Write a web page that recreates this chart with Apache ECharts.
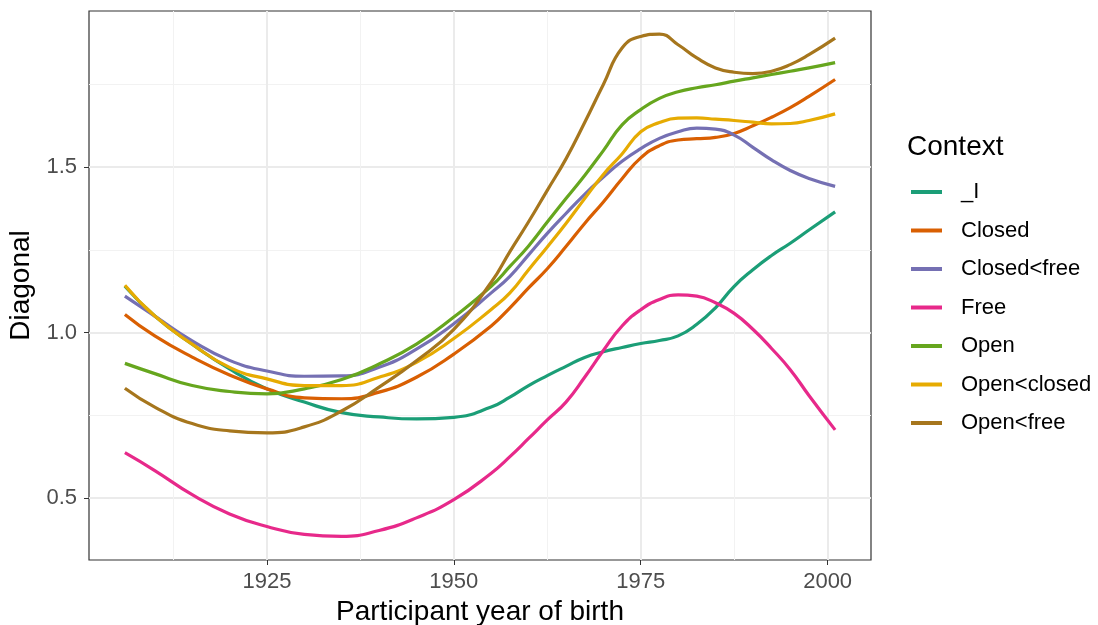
<!DOCTYPE html>
<html>
<head>
<meta charset="utf-8">
<script src="https://cdn.jsdelivr.net/npm/echarts@6/dist/echarts.min.js"></script>
<style>
  html, body { margin: 0; padding: 0; background: #fff; }
  #chart { width: 1098px; height: 625px; }
</style>
</head>
<body>
<div id="chart"></div>
<script>
// smoothed curves
const years = [1906, 1910, 1915, 1920, 1925, 1930, 1935, 1940, 1945, 1950,
  1955, 1957.5, 1960, 1962.5, 1965, 1967.5, 1970, 1972.5, 1975, 1977.5,
  1980, 1982.5, 1985, 1987.5, 1990, 1992.5, 1995, 1997.5, 2001]

const contexts = ['_I', 'Closed', 'Closed<free', 'Free', 'Open', 'Open<closed', 'Open<free']
const colors = ['#1B9E77', '#D95F02', '#7570B3', '#E7298A', '#66A61E', '#E6AB02', '#A6761D']

const valI = [1.14, 1.05, 0.965, 0.89, 0.83, 0.79, 0.758, 0.745, 0.739, 0.744,
  0.775, 0.805, 0.84, 0.87, 0.898, 0.925, 0.942, 0.955, 0.967, 0.976,
  0.99, 1.025, 1.075, 1.14, 1.19, 1.233, 1.27, 1.31, 1.365]
const valClosed = [1.055, 0.99, 0.926, 0.872, 0.83, 0.803, 0.80, 0.82, 0.865, 0.935,
  1.02, 1.075, 1.135, 1.193, 1.26, 1.33, 1.395, 1.465, 1.528, 1.565,
  1.582, 1.586, 1.59, 1.602, 1.625, 1.651, 1.68, 1.714, 1.765]
const valClosedFree = [1.11, 1.05, 0.975, 0.916, 0.884, 0.868, 0.869, 0.895, 0.95, 1.027,
  1.12, 1.17, 1.235, 1.30, 1.36, 1.418, 1.47, 1.518, 1.556, 1.587,
  1.607, 1.618, 1.615, 1.597, 1.56, 1.522, 1.49, 1.466, 1.442]
const valFree = [0.637, 0.583, 0.51, 0.452, 0.414, 0.39, 0.384, 0.402, 0.44, 0.495,
  0.575, 0.625, 0.68, 0.736, 0.79, 0.865, 0.946, 1.02, 1.069, 1.1,
  1.114, 1.11, 1.09, 1.058, 1.01, 0.952, 0.888, 0.81, 0.706]
const valOpen = [0.907, 0.876, 0.84, 0.822, 0.815, 0.83, 0.858, 0.905, 0.965, 1.047,
  1.14, 1.2, 1.262, 1.334, 1.405, 1.475, 1.55, 1.628, 1.674, 1.708,
  1.728, 1.74, 1.749, 1.76, 1.77, 1.78, 1.79, 1.80, 1.816]
const valOpenClosed = [1.143, 1.05, 0.965, 0.895, 0.86, 0.84, 0.84, 0.865, 0.91, 0.982,
  1.07, 1.12, 1.19, 1.259, 1.33, 1.405, 1.478, 1.54, 1.607, 1.635,
  1.648, 1.649, 1.645, 1.641, 1.636, 1.631, 1.632, 1.641, 1.661]
const valOpenFree = [0.832, 0.775, 0.725, 0.703, 0.697, 0.715, 0.763, 0.835, 0.915, 1.01,
  1.152, 1.245, 1.335, 1.43, 1.525, 1.635, 1.75, 1.86, 1.895, 1.902,
  1.87, 1.83, 1.80, 1.787, 1.783, 1.79, 1.81, 1.84, 1.89]

const xTicks = [1925, 1950, 1975, 2000]
const xMinor = [1912.5, 1937.5, 1962.5, 1987.5]
const yTicks = [0.5, 1.0, 1.5]
const yMinor = [0.75, 1.25, 1.75]

const allValues = [valI, valClosed, valClosedFree, valFree, valOpen, valOpenClosed, valOpenFree]

const font = 'Liberation Sans, Arial, Helvetica, sans-serif'
const chart = echarts.init(document.getElementById('chart'))

// extra axes only to draw the lighter minor grid
const minorAxis = (vals) => ({
  gridIndex: 0,
  axisLine: { show: false },
  axisTick: { show: false, customValues: vals },
  axisLabel: { show: false, customValues: vals },
  splitLine: { show: true, lineStyle: { color: '#F2F2F2', width: 1 } },
})

chart.setOption({
  animation: false,
  grid: {
    left: 89,
    right: 227,
    top: 11,
    bottom: 65,
    containLabel: false,
    outerBoundsMode: 'none',
    show: true,
    borderColor: '#333333',
    borderWidth: 1.2,
    backgroundColor: 'transparent',
  },
  title: {
    text: 'Context',
    left: 902,
    top: 128,
    textStyle: { fontFamily: font, fontSize: 28, fontWeight: 'normal', color: '#000' },
  },
  legend: {
    orient: 'vertical',
    left: 906,
    top: 176,
    icon: 'rect',
    itemWidth: 31,
    itemHeight: 4,
    itemGap: 16.5,
    data: contexts,
    textStyle: {
      fontFamily: font,
      fontSize: 22,
      color: '#000',
      lineHeight: 22,
      padding: [0, 0, 0, 14],
    },
  },
  xAxis: [
    {
      type: 'value',
      min: 1901.2,
      max: 2005.8,
      name: 'Participant year of birth',
      nameLocation: 'middle',
      nameGap: 38,
      nameTextStyle: { fontFamily: font, fontSize: 28, color: '#000' },
      axisLine: { show: false },
      axisTick: { show: true, inside: false, length: 5, customValues: xTicks, lineStyle: { color: '#333333' } },
      axisLabel: {
        customValues: xTicks,
        margin: 11,
        fontFamily: font,
        fontSize: 22,
        color: '#4D4D4D',
        formatter: (v) => String(v),
      },
      splitLine: { show: true, lineStyle: { color: '#EBEBEB', width: 2 } },
    },
    Object.assign({ type: 'value', min: 1901.2, max: 2005.8, position: 'bottom' }, minorAxis(xMinor)),
  ],
  yAxis: [
    {
      type: 'value',
      min: 0.3127,
      max: 1.972,
      name: 'Diagonal',
      nameLocation: 'middle',
      nameGap: 47,
      nameRotate: 90,
      nameTextStyle: { fontFamily: font, fontSize: 28, color: '#000' },
      axisLine: { show: false },
      axisTick: { show: true, inside: false, length: 5, customValues: yTicks, lineStyle: { color: '#333333' } },
      axisLabel: {
        customValues: yTicks,
        margin: 12,
        fontFamily: font,
        fontSize: 22,
        color: '#4D4D4D',
        formatter: (v) => v.toFixed(1),
      },
      splitLine: { show: true, lineStyle: { color: '#EBEBEB', width: 2 } },
    },
    Object.assign({ type: 'value', min: 0.3127, max: 1.972, position: 'left' }, minorAxis(yMinor)),
  ],
  series: contexts.map((name, i) => ({
    name: name,
    type: 'line',
    xAxisIndex: 0,
    yAxisIndex: 0,
    data: years.map((y, j) => [y, allValues[i][j]]),
    smooth: 0.5,
    showSymbol: false,
    symbol: 'none',
    color: colors[i],
    lineStyle: { width: 3.2, color: colors[i] },
  })),
})
</script>
</body>
</html>
